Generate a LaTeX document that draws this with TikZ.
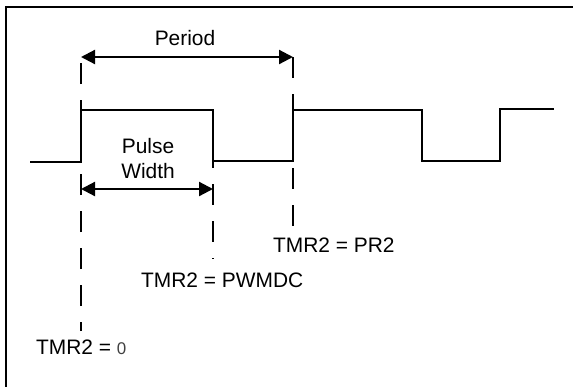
\documentclass[tikz,border=0pt]{standalone}
\usepackage{fontspec}
\setmainfont{Liberation Sans}
\usetikzlibrary{arrows.meta,positioning}

\begin{document}
\begin{tikzpicture}[x=1bp,y=-1bp,line width=2.2bp,>={Triangle[length=14bp,width=14bp]},
  markline/.style={line width=2bp,dash pattern=on 21bp off 16bp},
  lbl/.style={font=\fontsize{21}{25}\selectfont,inner sep=0pt}]
  \useasboundingbox (0,0) rectangle (573,387);
  % frame, only top and left side show
  \draw[line width=2bp] (573,7) -- (6,7) -- (6,387);
  % waveform
  \draw (30,162) -- (81,162) -- (81,110) -- (213,110) -- (213,161) -- (293,161)
    -- (293,110) -- (422,110) -- (422,161) -- (500,161) -- (500,109) -- (554,109);
  % marker lines
  \coordinate (start) at (81,57);   \coordinate (startlow) at (81,331);
  \coordinate (duty) at (213,110);  \coordinate (dutylow) at (213,259);
  \coordinate (stop) at (293,57);   \coordinate (stoplow) at (293,232);
  \draw[markline,dash phase=12bp] (startlow) -- (start);
  \draw[markline] (duty) -- (dutylow);
  \draw[markline] (stop) -- (stoplow);
  % dimension arrows
  \draw[<->] (start) -- (stop);
  \coordinate (pwl) at (81,189);  \coordinate (pwr) at (213,189);
  \draw[<->] (pwl) -- (pwr);
  % labels
  \node[lbl,anchor=base] (period) at (185,45) {Period};
  \node[lbl,anchor=base,align=center] (pulse) at (148,178) {Pulse\\Width};
  \node[lbl,anchor=base west] (pr2) at (272,252) {TMR2 = PR2};
  \node[lbl,anchor=base west] (pwmdc) at (140,287) {TMR2 = PWMDC};
  \node[lbl,anchor=base west] (zero) at (35,354) {TMR2 = {\fontsize{17}{20}\selectfont\color{black!75}0}};
\end{tikzpicture}
\end{document}
